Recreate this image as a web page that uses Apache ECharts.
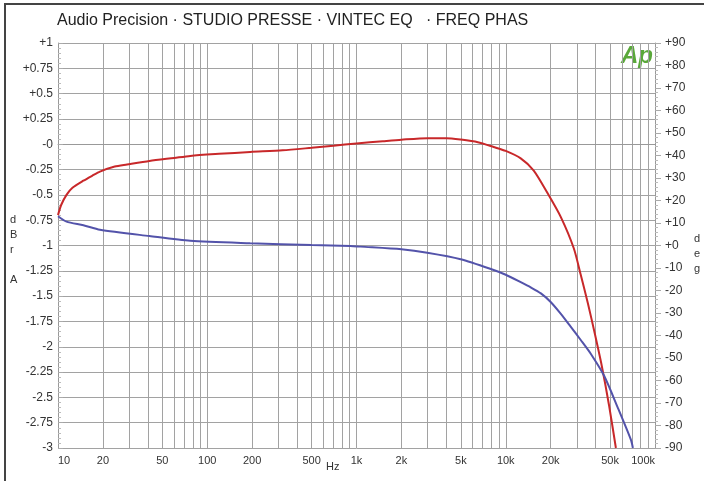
<!DOCTYPE html>
<html>
<head>
<meta charset="utf-8">
<script src="https://cdn.jsdelivr.net/npm/echarts@6/dist/echarts.min.js"></script>
<style>
  html, body { margin: 0; padding: 0; background: #fff; }
  #frame { position: absolute; left: 4px; top: 3px; width: 700px; height: 478px;
           border-top: 2px solid #444; border-left: 2px solid #444; box-sizing: border-box; }
  #chart { position: absolute; left: 0; top: 0; width: 704px; height: 481px; }
</style>
</head>
<body>
<div id="frame"></div>
<div id="chart"></div>
<script>
// amplitude (dBr A, left axis)
const ampFreq = [10, 10.5, 11.4, 12.5, 14.8, 17, 19.1, 24, 29, 41, 60, 77, 120, 194, 320, 500, 700,
  1000, 1500, 2000, 3000, 4000, 5000, 6500, 8300, 10000, 12600, 15400, 19000, 23400, 28600,
  31800, 35500, 39500, 44000, 49100, 54700];
const ampValues = [-0.70, -0.60, -0.50, -0.43, -0.36, -0.31, -0.27, -0.22, -0.20, -0.165, -0.135,
  -0.115, -0.095, -0.076, -0.06, -0.035, -0.015, 0.008, 0.03, 0.045, 0.06, 0.06, 0.046, 0.02,
  -0.027, -0.066, -0.14, -0.26, -0.48, -0.72, -1.03, -1.29, -1.57, -1.87, -2.19, -2.57, -3.0];

// phase (deg, right axis)
const phaseFreq = [10, 11.4, 14.8, 19.1, 41, 77, 194, 500, 910, 1064, 2000, 2980, 4990, 8300,
  10000, 12600, 14700, 17200, 20000, 23400, 27300, 31800, 37200, 45700, 56100, 69000, 71100];
const phaseValues = [13, 10.6, 9, 7, 4.2, 2.1, 1.0, 0.2, -0.2, -0.5, -1.7, -3.2, -6.1, -10.9,
  -13, -16.3, -18.6, -21.3, -25.1, -30.4, -36.2, -42, -48.2, -58, -71.8, -86.4, -90];

const freqLabels = [10, 20, 50, 100, 200, 500, 1000, 2000, 5000, 10000, 20000, 50000, 100000];
const gridFreqs = [];
[10, 100, 1000, 10000].forEach(d => { for (let k = 1; k < 10; k++) gridFreqs.push(d * k); });
gridFreqs.push(100000);

const fmtFreq = v => v >= 1000 ? Math.round(v / 1000) + 'k' : String(Math.round(v));
const labelFont = { color: '#333', fontSize: 11, fontFamily: 'Liberation Sans' };

const chart = echarts.init(document.getElementById('chart'));
chart.setOption({
  animation: false,
  grid: { left: 58, right: 49, top: 43, bottom: 33 },
  xAxis: {
    type: 'log', min: 10, max: 100000,
    axisLine: { show: true, lineStyle: { color: '#999' } },
    axisTick: { show: false, customValues: gridFreqs },
    axisLabel: Object.assign({ customValues: freqLabels, formatter: fmtFreq, margin: 7,
      alignMinLabel: 'left', alignMaxLabel: 'right' }, labelFont),
    splitLine: { show: true, lineStyle: { color: '#a2a2a2', width: 1 } }
  },
  yAxis: [{
    type: 'value', min: -3, max: 1, interval: 0.25,
    axisLine: { show: true, lineStyle: { color: '#999' } },
    axisTick: { show: true, inside: true, length: 5, lineStyle: { color: '#aaa' } },
    minorTick: { show: true, splitNumber: 5, length: 3, lineStyle: { color: '#bbb' } },
    axisLabel: Object.assign({}, labelFont, { margin: 5, fontSize: 12,
      formatter: v => v > 0 ? '+' + v : (v === 0 ? '-0' : String(v)) }),
    splitLine: { show: true, lineStyle: { color: '#a2a2a2', width: 1 } }
  }, {
    type: 'value', min: -90, max: 90, interval: 10, position: 'right',
    axisLine: { show: true, lineStyle: { color: '#999' } },
    axisTick: { show: true, length: 6, lineStyle: { color: '#aaa' } },
    minorTick: { show: true, splitNumber: 5, length: 3, lineStyle: { color: '#bbb' } },
    axisLabel: Object.assign({}, labelFont, { margin: 10, fontSize: 12,
      formatter: v => v >= 0 ? '+' + v : String(v) }),
    splitLine: { show: false }
  }],
  series: [{
    type: 'line', yAxisIndex: 0, showSymbol: false, smooth: 0.25,
    lineStyle: { color: '#c8282a', width: 2 },
    data: ampFreq.map((f, i) => [f, ampValues[i]])
  }, {
    type: 'line', yAxisIndex: 1, showSymbol: false, smooth: 0.25,
    lineStyle: { color: '#5353aa', width: 2 },
    data: phaseFreq.map((f, i) => [f, phaseValues[i]])
  }],
  graphic: [
    { type: 'text', left: 57, top: 13,
      style: { text: 'Audio Precision · STUDIO PRESSE · VINTEC EQ   · FREQ PHAS',
        fill: '#222', fontSize: 16, fontFamily: 'Liberation Sans' } },
    { type: 'text', left: 621, top: 44,
      style: { text: 'Ap', fill: '#5aa83a', fontSize: 24, fontWeight: 'bold', fontStyle: 'italic',
        fontFamily: 'Liberation Sans' } },
    { type: 'text', left: 10, top: 212,
      style: { text: 'd\nB\nr\n\nA', fill: '#333', fontSize: 11, lineHeight: 15,
        fontFamily: 'Liberation Sans', align: 'center' } },
    { type: 'text', left: 694, top: 231,
      style: { text: 'd\ne\ng', fill: '#333', fontSize: 11, lineHeight: 15,
        fontFamily: 'Liberation Sans' } },
    { type: 'text', left: 326, top: 461,
      style: { text: 'Hz', fill: '#333', fontSize: 11, fontFamily: 'Liberation Sans' } }
  ]
});
</script>
</body>
</html>
